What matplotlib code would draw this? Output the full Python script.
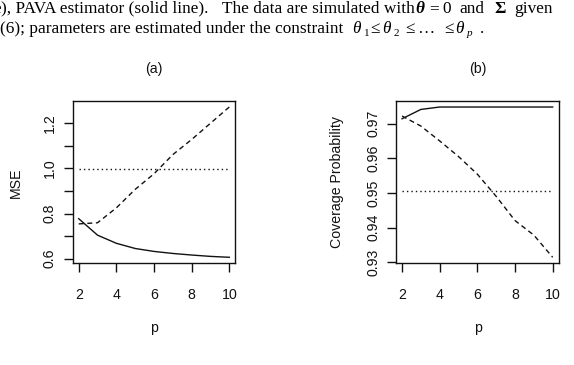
import matplotlib
matplotlib.use("Agg")
import matplotlib.pyplot as plt
import numpy as np

# ---- data ----
p_values = [2, 3, 4, 5, 6, 7, 8, 9, 10]
mse_pava = [0.777, 0.704, 0.668, 0.645, 0.632, 0.623, 0.616, 0.610, 0.606]
mse_dashed = [0.754, 0.759, 0.825, 0.907, 0.976, 1.061, 1.128, 1.200, 1.272]
mse_dotted = [0.997] * 9
cov_pava = [0.9714, 0.9741, 0.9748, 0.9748, 0.9748, 0.9748, 0.9748, 0.9748, 0.9748]
cov_dashed = [0.9722, 0.9693, 0.9650, 0.9605, 0.9554, 0.9490, 0.9420, 0.9378, 0.9314]
cov_dotted = [0.9506] * 9
x_ticks = [2, 4, 6, 8, 10]
mse_ticks = [0.6, 0.7, 0.8, 0.9, 1.0, 1.1, 1.2]
mse_ticklabels = ["0.6", "", "0.8", "", "1.0", "", "1.2"]
cov_ticks = [0.93, 0.94, 0.95, 0.96, 0.97]
cov_ticklabels = ["0.93", "0.94", "0.95", "0.96", "0.97"]

W, H = 574, 365
fig = plt.figure(figsize=(W / 100, H / 100), dpi=100)

SANS = "Liberation Sans"
SERIF = "Liberation Serif"
FS = 10.2
INK = "#111111"


def fx(x):
    return x / W


def fy(y):
    return 1 - y / H


def rlim(vals):
    lo, hi = min(vals), max(vals)
    r = hi - lo
    return lo - 0.04 * r, hi + 0.04 * r


def make_axes(left, right, top, bottom):
    return fig.add_axes([fx(left), fy(bottom), (right - left) / W, (bottom - top) / H])


def style(ax, yticks, yticklabels):
    for s in ax.spines.values():
        s.set_linewidth(1.0)
        s.set_color(INK)
    ax.set_xticks(x_ticks)
    ax.set_xticklabels([str(v) for v in x_ticks], fontfamily=SANS, fontsize=FS)
    ax.set_yticks(yticks)
    ax.set_yticklabels(yticklabels, fontfamily=SANS, fontsize=FS, rotation=90, va="center")
    ax.tick_params(axis="x", length=6.5, width=1.0, pad=11, colors=INK)
    ax.tick_params(axis="y", length=6.5, width=1.0, pad=5, colors=INK)
    ax.set_xlim(1.68, 10.32)


def draw(ax, solid, dashed, dotted):
    ax.plot(p_values, solid, color=INK, lw=1.0, solid_joinstyle="round")
    ax.plot(p_values, dashed, color=INK, lw=1.0, dashes=(3.6, 2.6))
    ax.plot(p_values, dotted, color=INK, lw=1.0, dashes=(1.0, 2.2))


# panel (a)
ax1 = make_axes(72.7, 235.3, 101, 263.3)
draw(ax1, mse_pava, mse_dashed, mse_dotted)
style(ax1, mse_ticks, mse_ticklabels)
ax1.set_ylim(*rlim(mse_pava + mse_dashed + mse_dotted))

# panel (b)
ax2 = make_axes(396, 558.7, 101, 263.3)
draw(ax2, cov_pava, cov_dashed, cov_dotted)
style(ax2, cov_ticks, cov_ticklabels)
ax2.set_ylim(*rlim(cov_pava + cov_dashed + cov_dotted))

# titles and axis labels
fig.text(fx(153.5), fy(69), "(a)", ha="center", va="center", fontfamily=SANS, fontsize=FS, color=INK)
fig.text(fx(478), fy(69), "(b)", ha="center", va="center", fontfamily=SANS, fontsize=FS, color=INK)
fig.text(fx(16), fy(182.5), "MSE", ha="center", va="center", rotation=90, fontfamily=SANS, fontsize=FS, color=INK)
fig.text(fx(336.5), fy(182.5), "Coverage Probability", ha="center", va="center", rotation=90,
         fontfamily=SANS, fontsize=FS, color=INK)
fig.text(fx(154), fy(332), "p", ha="center", va="baseline", fontfamily=SANS, fontsize=FS, color=INK)
fig.text(fx(478), fy(332), "p", ha="center", va="baseline", fontfamily=SANS, fontsize=FS, color=INK)

# caption fragment at top
CFS = 12.4


def cap(x, y, s, ha="left", **kw):
    fig.text(fx(x), fy(y), s, ha=ha, va="baseline", fontfamily=SERIF, fontsize=kw.pop("size", CFS),
             color="black", **kw)


b1, b2 = 12.7, 33.3
cap(1, b1, "e", ha="right")
cap(1, b1, "), PAVA estimator (solid line).")
cap(222, b1, "The data are simulated with")
cap(415.5, b1, "\u03b8", fontweight="bold", fontstyle="italic")
cap(429, b1, "=")
cap(442, b1, "0")
cap(459, b1, "and")
cap(494, b1, "\u03a3", fontweight="bold")
cap(514, b1, "given")

cap(-0.5, b2, "(6); parameters are estimated under the constraint")
cap(352, b2, "\u03b8", fontstyle="italic")
cap(363.5, b2 + 3, "1", size=8)
cap(370.5, b2, "\u2264")
cap(382, b2, "\u03b8", fontstyle="italic")
cap(393.5, b2 + 3, "2", size=8)
cap(405.5, b2, "\u2264")
cap(417, b2, "\u2026")
cap(444, b2, "\u2264")
cap(455.5, b2, "\u03b8", fontstyle="italic")
cap(467, b2 + 3, "p", size=8, fontstyle="italic")
cap(480, b2, ".")

fig.savefig("out.png", dpi=100)
